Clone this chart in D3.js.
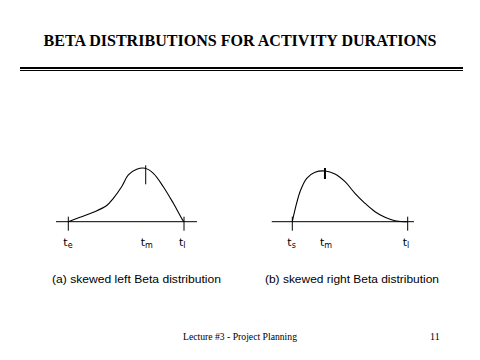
<!DOCTYPE html>
<html><head><meta charset="utf-8">
<script src="https://cdn.jsdelivr.net/npm/d3@7"></script>
<style>html,body{margin:0;padding:0;background:#fff;}svg{display:block;}</style>
</head><body>
<script>
// ---- data (normalized time 0..1 between end points, normalized density 0..1) ----
const title = "BETA DISTRIBUTIONS FOR ACTIVITY DURATIONS";
const leftT = [0, 0.101, 0.216, 0.332, 0.389, 0.461, 0.519, 0.591, 0.663, 0.735, 0.821, 0.908, 0.994, 1.0];
const leftD = [0, 0.082, 0.176, 0.303, 0.438, 0.655, 0.875, 0.981, 1.0, 0.906, 0.655, 0.345, 0.013, 0];
const rightT = [0, 0.023, 0.067, 0.125, 0.197, 0.283, 0.370, 0.457, 0.543, 0.630, 0.717, 0.803, 0.890, 0.962, 1.0];
const rightD = [0, 0.231, 0.592, 0.856, 0.974, 1.0, 0.941, 0.789, 0.560, 0.363, 0.197, 0.087, 0.020, 0, 0];
const leftTicks = [0, 0.669, 1];
const rightTicks = [0, 0.283, 1];
const leftTickSubs = ["e", "m", "l"];
const rightTickSubs = ["s", "m", "l"];
const captions = ["(a) skewed left Beta distribution", "(b) skewed right Beta distribution"];
const footerLeft = "Lecture #3 - Project Planning";
const footerRight = "11";

const W = 480, H = 360;
const svg = d3.select("body").append("svg").attr("width", W).attr("height", H);

svg.append("text").attr("x", 240).attr("y", 46).attr("text-anchor", "middle")
  .attr("font-family", "Liberation Serif, Times New Roman, serif").attr("font-weight", "bold")
  .attr("font-size", 16).attr("textLength", 393).attr("lengthAdjust", "spacingAndGlyphs")
  .text(title);

svg.append("line").attr("x1", 20).attr("x2", 463).attr("y1", 68).attr("y2", 68)
  .attr("stroke", "#000").attr("stroke-width", 2);
svg.append("line").attr("x1", 20).attr("x2", 463).attr("y1", 70.5).attr("y2", 70.5)
  .attr("stroke", "#000").attr("stroke-width", 1);

function panel(cfg) {
  const x = d3.scaleLinear().domain([0, 1]).range(cfg.xr);
  const y = d3.scaleLinear().domain([0, 1]).range([221.7, cfg.peakY]);
  const g = svg.append("g");
  g.append("line").attr("x1", x(cfg.axisDom[0])).attr("x2", x(cfg.axisDom[1]))
    .attr("y1", y(0)).attr("y2", y(0)).attr("stroke", "#000").attr("stroke-width", 1);
  const pts = cfg.t.map((t, i) => [t, cfg.d[i]]);
  g.append("path").datum(pts)
    .attr("d", d3.line().x(p => x(p[0])).y(p => y(p[1])).curve(d3.curveCatmullRom.alpha(0.5)))
    .attr("fill", "none").attr("stroke", "#000").attr("stroke-width", 1.1);
  cfg.ticks.forEach((t, i) => {
    const mid = i === 1;
    const y1 = mid ? y(1) - 3 : y(0) - 5;
    const y2 = mid ? y(1) + cfg.midLen : y(0) + 9;
    g.append("line").attr("x1", x(t)).attr("x2", x(t)).attr("y1", y1).attr("y2", y2)
      .attr("stroke", "#000").attr("stroke-width", mid ? cfg.midW : 1);
    const tx = g.append("text").attr("x", x(t) - 5).attr("y", 246)
      .attr("font-family", "DejaVu Sans, sans-serif").attr("font-size", 11);
    tx.append("tspan").text("t");
    tx.append("tspan").attr("font-size", 8).attr("dy", 2).text(cfg.subs[i]);
  });
  svg.append("text").attr("x", cfg.capX).attr("y", 283)
    .attr("font-family", "Liberation Sans, Arial, sans-serif").attr("font-size", 11)
    .attr("textLength", cfg.capW).attr("lengthAdjust", "spacingAndGlyphs")
    .text(cfg.caption);
}

panel({xr: [68.3, 184], peakY: 168.3, t: leftT, d: leftD, ticks: leftTicks, subs: leftTickSubs,
       axisDom: [-0.106, 1.112], midLen: 16, midW: 1, capX: 52, capW: 169, caption: captions[0]});
panel({xr: [292.3, 407.7], peakY: 171, t: rightT, d: rightD, ticks: rightTicks, subs: rightTickSubs,
       axisDom: [-0.178, 1.054], midLen: 8, midW: 2, capX: 265, capW: 174, caption: captions[1]});

svg.append("text").attr("x", 183).attr("y", 340)
  .attr("font-family", "Liberation Serif, Times New Roman, serif").attr("font-size", 10)
  .attr("textLength", 114).attr("lengthAdjust", "spacingAndGlyphs").text(footerLeft);
svg.append("text").attr("x", 430).attr("y", 340)
  .attr("font-family", "Liberation Serif, Times New Roman, serif").attr("font-size", 10)
  .text(footerRight);
</script>
</body></html>
